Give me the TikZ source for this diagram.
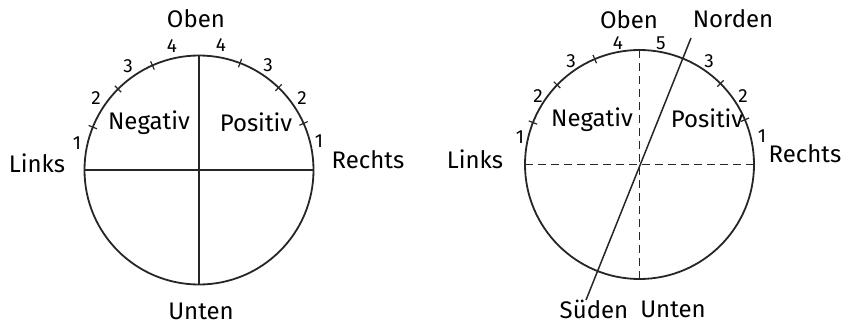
\documentclass[tikz,border=0pt]{standalone}
\usepackage{fontspec}
\setmainfont{Fira Sans}
\usetikzlibrary{calc}
\begin{document}
\begin{tikzpicture}[x=1pt,y=-1pt,
  lbl/.style={font=\fontsize{24}{26}\selectfont, inner sep=0pt},
  num/.style={font=\fontsize{19}{21}\selectfont, inner sep=0pt},
  ln/.style={line width=1.8pt, black!85},
  tk/.style={line width=1.2pt, black!85},
  dl/.style={line width=1.6pt, black!85, dash pattern=on 8pt off 5pt}]
\useasboundingbox (0,0) rectangle (846,324);
% ---------- left circle ----------
\coordinate (A) at (199,170);
\draw[ln] (A) circle (114.5);
\draw[ln] (84.5,170) -- (313.5,170);
\draw[ln] (199,55.5) -- (199,284.5);
\foreach \a in {158,135,114,69,46,24}
  \draw[tk] ($(A)+(-\a:110)$) -- ($(A)+(-\a:119)$);
\node[lbl] (oben1) at (196,19) {Oben};
\node[lbl] (links1) at (37,163) {Links};
\node[lbl] (rechts1) at (368,160) {Rechts};
\node[lbl] (unten1) at (201,311) {Unten};
\node[lbl] (neg1) at (149,123) {Negativ};
\node[lbl] (pos1) at (256,122) {Positiv};
\node[num] (l1a) at (77,143) {1};
\node[num] (l2a) at (96,98) {2};
\node[num] (l3a) at (128,66) {3};
\node[num] (l4a) at (172,46) {4};
\node[num] (r4a) at (221,45) {4};
\node[num] (r3a) at (268,65) {3};
\node[num] (r2a) at (302,98) {2};
\node[num] (r1a) at (319,141) {1};
% ---------- right circle ----------
\coordinate (B) at (639.5,164.5);
\draw[ln] (B) circle (114.5);
\draw[dl] (525,164.5) -- (754,164.5);
\draw[dl] (639.5,50) -- (639.5,279);
\coordinate (N) at (691,38);
\coordinate (S) at (586,300);
\draw[line width=1.5pt, black!85] (N) -- (S);
\foreach \a in {158.5,136,113,45,23}
  \draw[tk] ($(B)+(-\a:110)$) -- ($(B)+(-\a:119)$);
\node[lbl] (oben2) at (629,20) {Oben};
\node[lbl] (norden) at (733,19) {Norden};
\node[lbl] (links2) at (475,159) {Links};
\node[lbl] (rechts2) at (805,154) {Rechts};
\node[lbl] (neg2) at (592,120) {Negativ};
\node[lbl] (pos2) at (707,118) {Positiv};
\node[lbl] (sueden) at (594,309) {Süden};
\node[lbl] (unten2) at (673,309) {Unten};
\node[num] (l1b) at (520,137) {1};
\node[num] (l2b) at (538,96) {2};
\node[num] (l3b) at (571,61) {3};
\node[num] (l4b) at (618,43) {4};
\node[num] (r5b) at (661,43) {5};
\node[num] (r3b) at (709,61) {3};
\node[num] (r2b) at (743,96) {2};
\node[num] (r1b) at (762,136) {1};
\end{tikzpicture}
\end{document}
